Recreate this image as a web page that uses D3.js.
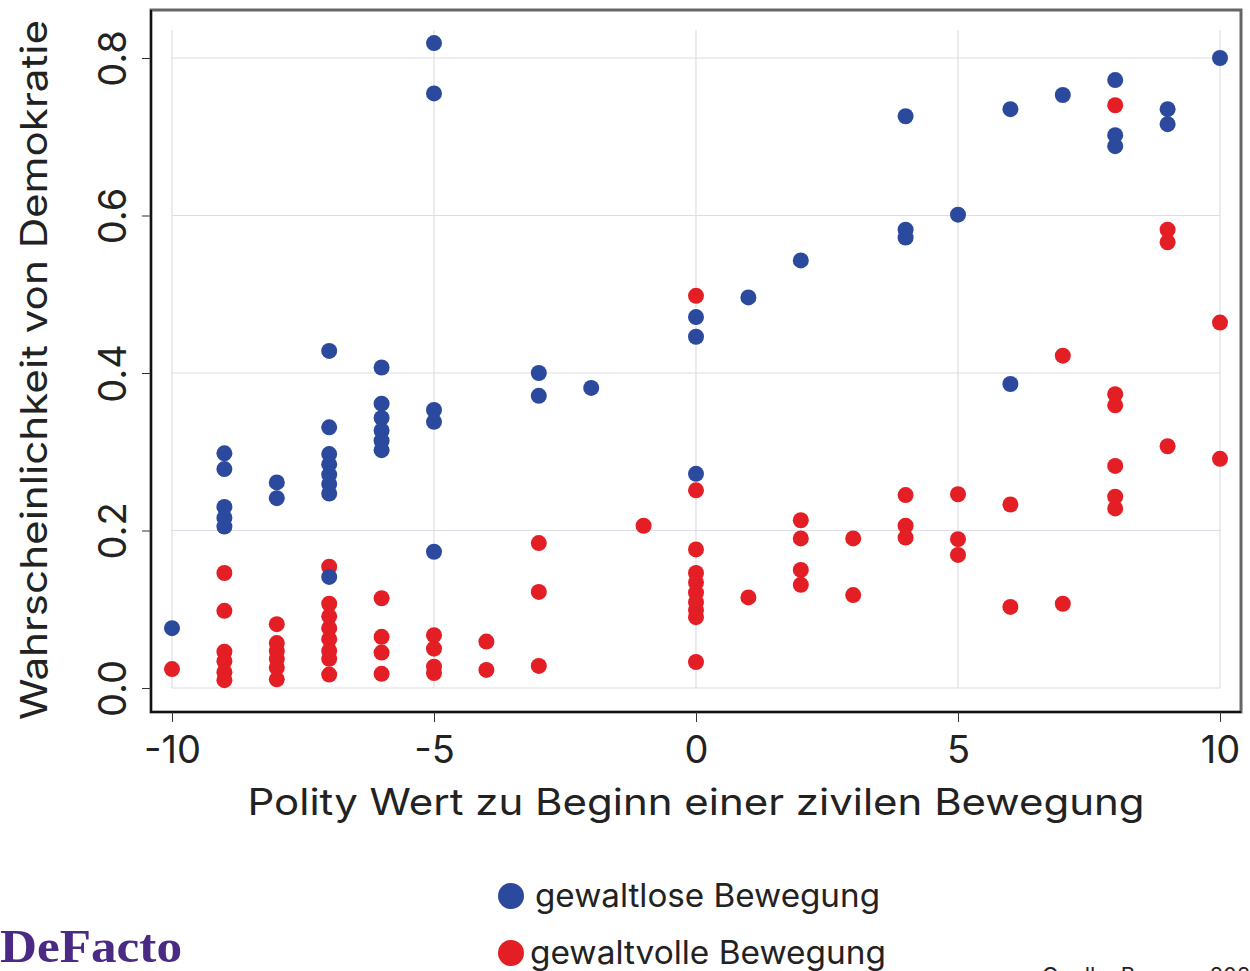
<!DOCTYPE html>
<html>
<head>
<meta charset="utf-8">
<title>Polity Wert und Demokratie</title>
<style>
	body{margin:0;background:#fff;}
	svg{display:block;}
	text{font-family:Inter,"Open Sans",sans-serif;fill:#222;}
	.grid line{stroke:#dedde6;stroke-width:1.2;}
	.tick line{stroke:#333;}
	.logo{font-family:"Liberation Serif","DejaVu Serif",serif;fill:#4a2a84;font-weight:bold;}
</style>
<script src="https://d3js.org/d3.v7.min.js"></script>
</head>
<body>
<svg id="chart" width="1250" height="971"></svg>
<script>
// x tick values / labels
var xTicks = [-10, -5, 0, 5, 10];
var xTickLabels = ["-10", "-5", "0", "5", "10"];
var yTicks = [0, 0.2, 0.4, 0.6, 0.8];
var yTickLabels = ["0.0", "0.2", "0.4", "0.6", "0.8"];

var seriesNames = ["gewaltlose Bewegung", "gewaltvolle Bewegung"];

// gewaltlose Bewegung : [polity, wahrscheinlichkeit]
var gewaltlos = [
	[-10,0.076],
	[-9,0.298],[-9,0.278],[-9,0.230],[-9,0.216],[-9,0.205],
	[-8,0.261],[-8,0.241],
	[-7,0.428],[-7,0.331],[-7,0.297],[-7,0.284],[-7,0.271],[-7,0.259],[-7,0.247],[-7,0.141],
	[-6,0.407],[-6,0.361],[-6,0.343],[-6,0.327],[-6,0.314],[-6,0.302],
	[-5,0.819],[-5,0.755],[-5,0.353],[-5,0.338],[-5,0.173],
	[-3,0.400],[-3,0.371],
	[-2,0.381],
	[0,0.471],[0,0.446],[0,0.272],
	[1,0.496],
	[2,0.543],
	[4,0.726],[4,0.582],[4,0.572],
	[5,0.601],
	[6,0.735],[6,0.386],
	[7,0.753],
	[8,0.772],[8,0.702],[8,0.688],
	[9,0.735],[9,0.716],
	[10,0.800]
];

// gewaltvolle Bewegung
var gewaltvoll = [
	[-10,0.024],
	[-9,0.146],[-9,0.098],[-9,0.046],[-9,0.034],[-9,0.020],[-9,0.010],
	[-8,0.081],[-8,0.057],[-8,0.047],[-8,0.037],[-8,0.026],[-8,0.011],
	[-7,0.154],[-7,0.107],[-7,0.091],[-7,0.076],[-7,0.062],[-7,0.047],[-7,0.037],[-7,0.017],
	[-6,0.114],[-6,0.065],[-6,0.045],[-6,0.018],
	[-5,0.067],[-5,0.050],[-5,0.027],[-5,0.019],
	[-4,0.059],[-4,0.023],
	[-3,0.184],[-3,0.122],[-3,0.028],
	[-1,0.206],
	[0,0.498],[0,0.251],[0,0.176],[0,0.146],[0,0.134],[0,0.121],[0,0.109],[0,0.099],[0,0.090],[0,0.033],
	[1,0.115],
	[2,0.213],[2,0.190],[2,0.150],[2,0.131],
	[3,0.190],[3,0.118],
	[4,0.245],[4,0.206],[4,0.191],
	[5,0.246],[5,0.189],[5,0.169],
	[6,0.233],[6,0.103],
	[7,0.422],[7,0.107],
	[8,0.740],[8,0.373],[8,0.359],[8,0.282],[8,0.243],[8,0.228],
	[9,0.582],[9,0.566],[9,0.307],
	[10,0.464],[10,0.291]
];

var blue = "#2b4a9d";
var red  = "#e31e24";
var dotR = 8;

var svg = d3.select("#chart");

var x = d3.scaleLinear().domain([-10, 10]).range([172, 1220]);
var y = d3.scaleLinear().domain([0, 0.8]).range([688, 58]);

// Rahmen
svg.append("rect")
	.attr("x", 151).attr("y", 10)
	.attr("width", 1090).attr("height", 702)
	.attr("fill", "none").attr("stroke", "#666").attr("stroke-width", 3);
svg.append("path")
	.attr("d", "M151,10 V712 H1241")
	.attr("fill", "none").attr("stroke", "#111").attr("stroke-width", 2);

// Gitterlinien
var grid = svg.append("g").attr("class", "grid");
grid.selectAll(".v").data(xTicks).enter().append("line")
	.attr("x1", function(d){ return x(d); })
	.attr("x2", function(d){ return x(d); })
	.attr("y1", 30).attr("y2", y(0));
grid.selectAll(".h").data(yTicks).enter().append("line")
	.attr("x1", x(-10)).attr("x2", x(10))
	.attr("y1", function(d){ return y(d); })
	.attr("y2", function(d){ return y(d); });

// Achsen
var xAxis = svg.append("g")
	.attr("transform", "translate(0,712)")
	.call(d3.axisBottom(x).tickValues(xTicks).tickSize(10).tickPadding(14)
		.tickFormat(function(d, i){ return xTickLabels[i]; }));
xAxis.select(".domain").remove();
xAxis.selectAll("text").attr("font-size", 38).attr("fill", "#222")
	.attr("font-family", "Inter");

var yAxis = svg.append("g")
	.attr("transform", "translate(151,0)")
	.call(d3.axisLeft(y).tickValues(yTicks).tickSize(9).tickPadding(0)
		.tickFormat(function(d, i){ return yTickLabels[i]; }));
yAxis.select(".domain").remove();
yAxis.selectAll("text")
	.attr("font-size", 38).attr("fill", "#222").attr("font-family", "Inter")
	.attr("text-anchor", "middle")
	.attr("dy", 0).attr("x", 0)
	.attr("transform", "translate(-25,0) rotate(-90)");

// Achsentitel
svg.append("text")
	.attr("x", 696).attr("y", 815)
	.attr("text-anchor", "middle")
	.attr("font-size", 37)
	.attr("textLength", 897)
	.attr("lengthAdjust", "spacingAndGlyphs")
	.text("Polity Wert zu Beginn einer zivilen Bewegung");

svg.append("text")
	.attr("transform", "translate(47,370) rotate(-90)")
	.attr("text-anchor", "middle")
	.attr("font-size", 37)
	.attr("textLength", 700)
	.attr("lengthAdjust", "spacingAndGlyphs")
	.text("Wahrscheinlichkeit von Demokratie");

// Punkte (rot zuerst, blau oben)
svg.append("g").selectAll("circle").data(gewaltvoll).enter().append("circle")
	.attr("cx", function(d){ return x(d[0]); })
	.attr("cy", function(d){ return y(d[1]); })
	.attr("r", dotR).attr("fill", red);

svg.append("g").selectAll("circle").data(gewaltlos).enter().append("circle")
	.attr("cx", function(d){ return x(d[0]); })
	.attr("cy", function(d){ return y(d[1]); })
	.attr("r", dotR).attr("fill", blue);

// Legende
var legend = svg.append("g").selectAll("g").data(seriesNames).enter().append("g")
	.attr("transform", function(d, i){ return "translate(511," + (896 + i * 57) + ")"; });
legend.append("circle").attr("r", 13)
	.attr("fill", function(d, i){ return i == 0 ? blue : red; });
legend.append("text")
	.attr("x", function(d, i){ return i == 0 ? 24 : 19; })
	.attr("y", 11)
	.attr("font-size", 32)
	.attr("textLength", function(d, i){ return i == 0 ? 345 : 356; })
	.attr("lengthAdjust", "spacingAndGlyphs")
	.text(function(d){ return d; });

// Logo und Quelle
svg.append("text")
	.attr("class", "logo")
	.attr("x", 0).attr("y", 962)
	.attr("font-size", 46)
	.attr("textLength", 182)
	.attr("lengthAdjust", "spacingAndGlyphs")
	.text("DeFacto");

svg.append("text")
	.attr("x", 1042).attr("y", 983)
	.attr("font-size", 22)
	.text("Quelle: Brunner 2022");
</script>
</body>
</html>
